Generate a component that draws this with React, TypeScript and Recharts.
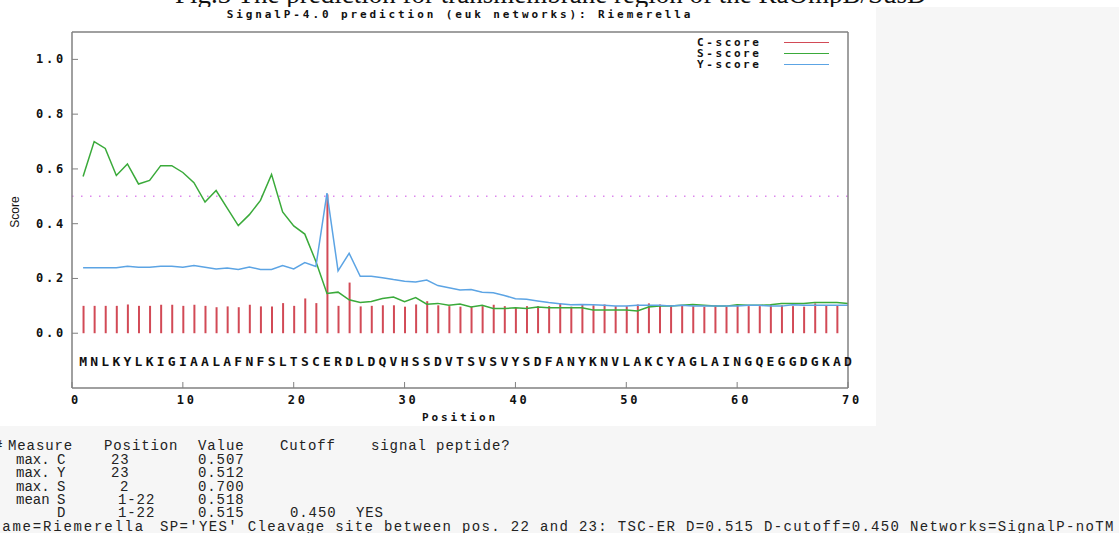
import React from 'react';
import { ComposedChart, Bar, Line, Scatter, XAxis, YAxis, ReferenceLine, Legend } from 'recharts';

// SignalP-4.0 output
const sequence = 'MNLKYLKIGIAALAFNFSLTSCERDLDQVHSSDVTSVSVYSDFANYKNVLAKCYAGLAINGQEGGDGKAD'.split('');

const cScore = [
  0.100, 0.100, 0.100, 0.100, 0.105, 0.100, 0.100, 0.104, 0.104, 0.100,
  0.104, 0.100, 0.095, 0.098, 0.095, 0.104, 0.098, 0.098, 0.110, 0.100,
  0.127, 0.110, 0.507, 0.100, 0.185, 0.098, 0.100, 0.102, 0.102, 0.097,
  0.105, 0.117, 0.102, 0.099, 0.097, 0.097, 0.099, 0.104, 0.099, 0.093,
  0.099, 0.099, 0.099, 0.109, 0.097, 0.105, 0.102, 0.105, 0.099, 0.099,
  0.105, 0.109, 0.105, 0.102, 0.102, 0.099, 0.097, 0.102, 0.097, 0.104,
  0.099, 0.099, 0.104, 0.102, 0.099, 0.097, 0.109, 0.102, 0.102,
];

const sScore = [
  0.572, 0.700, 0.675, 0.576, 0.618, 0.545, 0.558, 0.612, 0.612, 0.587,
  0.550, 0.479, 0.521, 0.457, 0.393, 0.433, 0.485, 0.580, 0.443, 0.392,
  0.362, 0.262, 0.145, 0.150, 0.122, 0.112, 0.116, 0.127, 0.132, 0.115,
  0.130, 0.106, 0.109, 0.102, 0.107, 0.096, 0.102, 0.090, 0.090, 0.093,
  0.090, 0.096, 0.093, 0.093, 0.093, 0.093, 0.085, 0.085, 0.085, 0.085,
  0.081, 0.096, 0.099, 0.099, 0.102, 0.105, 0.102, 0.099, 0.099, 0.104,
  0.102, 0.102, 0.104, 0.109, 0.109, 0.109, 0.112, 0.112, 0.112, 0.109,
];

const yScore = [
  0.239, 0.239, 0.239, 0.239, 0.245, 0.241, 0.241, 0.245, 0.245, 0.241,
  0.247, 0.241, 0.235, 0.238, 0.233, 0.242, 0.233, 0.233, 0.247, 0.235,
  0.258, 0.244, 0.512, 0.228, 0.292, 0.208, 0.208, 0.203, 0.196, 0.190,
  0.187, 0.194, 0.174, 0.166, 0.158, 0.160, 0.150, 0.148, 0.138, 0.126,
  0.124, 0.118, 0.112, 0.108, 0.104, 0.105, 0.104, 0.102, 0.099, 0.099,
  0.102, 0.102, 0.102, 0.099, 0.102, 0.099, 0.099, 0.099, 0.099, 0.099,
  0.102, 0.102, 0.099, 0.099, 0.104, 0.102, 0.102, 0.102, 0.102, 0.102,
];

const xTicks = [0, 10, 20, 30, 40, 50, 60, 70];
const yTicks = [0, 0.2, 0.4, 0.6, 0.8, 1.0];
const cutoff = 0.5;
const seqRow = -0.1;

// summary printed under the plot
const summaryHeader = ['#', 'Measure', 'Position', 'Value', 'Cutoff', 'signal peptide?'];
const summaryTable = [
  ['max.', 'C', '23', '0.507', '', ''],
  ['max.', 'Y', '23', '0.512', '', ''],
  ['max.', 'S', '2', '0.700', '', ''],
  ['mean', 'S', '1-22', '0.518', '', ''],
  ['', 'D', '1-22', '0.515', '0.450', 'YES'],
];
const summaryName = 'Name=Riemerella';
const summaryLine = "SP='YES' Cleavage site between pos. 22 and 23: TSC-ER D=0.515 D-cutoff=0.450 Networks=SignalP-noTM";

const rows = sScore.map((s, i) => ({
  pos: i + 1,
  c: i < cScore.length ? cScore[i] : null,
  s,
  y: yScore[i],
}));
const letters = sequence.map((ch, i) => ({ pos: i + 1, ly: seqRow, ch }));

// text layout for the summary block
const headerX = [-6, 8, 104, 198, 280, 371];
const colX = [16, 57, 111, 198, 290, 356];
const posX = [111, 111, 120, 118, 118];
const lineY = [446, 460, 473, 487, 500, 513, 527];

const mono = '"DejaVu Sans Mono", monospace';
const frame = '#808080';

const XTick = (p: any) => (
  <text x={p.x + 4} y={p.y + 6} textAnchor="middle" fontFamily={mono} fontWeight={700}
    fontSize={12} letterSpacing="2.8px" fill="#111">
    {p.payload.value}
  </text>
);

const YTick = (p: any) => (
  <text x={p.x} y={p.y + 4} textAnchor="end" fontFamily={mono} fontWeight={700}
    fontSize={12} letterSpacing="2.8px" fill="#111">
    {Number(p.payload.value).toFixed(1)}
  </text>
);

const Letter = (p: any) => (
  <text x={p.cx} y={p.cy + 5.5} textAnchor="middle" fontFamily={mono} fontWeight={700}
    fontSize={13} fill="#111">
    {p.payload.ch}
  </text>
);

const LegendBox = ({ payload }: any) => (
  <div>
    {(payload || []).filter((p: any) => p.dataKey !== 'ly').map((p: any) => (
      <div key={p.value} style={{ height: 11, display: 'flex', alignItems: 'center' }}>
        <span style={{ width: 87, fontFamily: mono, fontWeight: 700, fontSize: 11, letterSpacing: '2.6px', color: '#111', lineHeight: '11px' }}>
          {p.value}
        </span>
        <span style={{ width: 45, height: 0, borderTop: `1.5px solid ${p.color}` }} />
      </div>
    ))}
  </div>
);

const txt = (x: number, y: number, t: string, key: string, spacing = 0.9) => (
  <div key={key} style={{ position: 'absolute', left: x, top: y - 6.5, height: 13, lineHeight: '13px', whiteSpace: 'pre', fontFamily: '"Liberation Mono", monospace', fontSize: 14, letterSpacing: `${spacing}px`, color: '#222' }}>
    {t}
  </div>
);

export default function App() {
  return (
    <div style={{ position: 'absolute', left: 0, top: 0, width: 1119, height: 533, background: '#f6f6f6', overflow: 'hidden' }}>
      <div style={{ position: 'absolute', left: 0, top: 0, width: 1119, height: 7, background: '#fff' }} />
      <div style={{ position: 'absolute', left: 175, top: -19, whiteSpace: 'nowrap', fontFamily: '"Liberation Serif", serif', fontSize: 27, lineHeight: '27px', color: '#111' }}>
        Fig.3 The prediction for transmembrane region of the RaOmpB/SusD
      </div>
      <div style={{ position: 'absolute', left: 0, top: 7, width: 876, height: 419, background: '#fff' }} />

      <div style={{ position: 'absolute', left: 0, top: 9, width: 920, textAlign: 'center', fontFamily: mono, fontWeight: 700, fontSize: 11, lineHeight: '12px', letterSpacing: '2.9px', color: '#111' }}>
        SignalP-4.0 prediction (euk networks): Riemerella
      </div>

      <div style={{ position: 'absolute', left: 0, top: 0 }}>
        <ComposedChart width={876} height={426} data={rows} margin={{ top: 31, right: 27, bottom: 37, left: 71 }}>
          <XAxis xAxisId="b" dataKey="pos" type="number" domain={[0, 70]} ticks={xTicks}
            height={1} interval={0} axisLine={{ stroke: frame, strokeWidth: 1.5 }} tickLine={{ stroke: frame }}
            tickSize={-6} tickMargin={16} tick={XTick} />
          <XAxis xAxisId="t" orientation="top" type="number" domain={[0, 70]} ticks={xTicks} allowDataOverflow
            height={1} interval={0} axisLine={{ stroke: frame, strokeWidth: 1.5 }} tickLine={{ stroke: frame }}
            tickSize={-6} tick={false} />
          <YAxis yAxisId="l" type="number" domain={[-0.2, 1.1]} ticks={yTicks}
            width={1} interval={0} axisLine={{ stroke: frame, strokeWidth: 1.5 }} tickLine={{ stroke: frame }}
            tickSize={-6} tickMargin={12} tick={YTick} />
          <YAxis yAxisId="r" orientation="right" type="number" domain={[-0.2, 1.1]} ticks={yTicks} allowDataOverflow
            width={1} interval={0} axisLine={{ stroke: frame, strokeWidth: 1.5 }} tickLine={{ stroke: frame }}
            tickSize={-6} tick={false} />

          <ReferenceLine xAxisId="b" yAxisId="l" y={cutoff} stroke="#dd88ee" strokeWidth={1.5} strokeDasharray="1.5 7.5" />

          <Bar xAxisId="b" yAxisId="l" dataKey="c" name="C-score" barSize={2} fill="#d24a56" isAnimationActive={false} />
          <Line xAxisId="b" yAxisId="l" dataKey="s" name="S-score" type="linear" stroke="#3aaa3a" strokeWidth={1.5}
            dot={false} activeDot={false} isAnimationActive={false} />
          <Line xAxisId="b" yAxisId="l" dataKey="y" name="Y-score" type="linear" stroke="#5ca4e4" strokeWidth={1.5}
            dot={false} activeDot={false} isAnimationActive={false} />
          <Scatter xAxisId="b" yAxisId="l" data={letters} dataKey="ly" shape={Letter} legendType="none" isAnimationActive={false} />

          <Legend layout="vertical" align="center" verticalAlign="middle" content={LegendBox}
            wrapperStyle={{ position: 'absolute', left: 697, top: 36.5, width: 140 }} />
        </ComposedChart>
      </div>

      <div style={{ position: 'absolute', left: 0, top: 412, width: 920, textAlign: 'center', fontFamily: mono, fontWeight: 700, fontSize: 11, lineHeight: '12px', letterSpacing: '2.9px', color: '#111' }}>
        Position
      </div>
      <div style={{ position: 'absolute', left: 15, top: 212, transform: 'translate(-50%, -50%) rotate(-90deg)', fontFamily: '"Liberation Sans", sans-serif', fontSize: 12, color: '#111', whiteSpace: 'nowrap' }}>
        Score
      </div>

      {summaryHeader.map((t, k) => txt(headerX[k], lineY[0], t, `h${k}`))}
      {summaryTable.map((row, r) => row.map((t, k) => t ? txt(k === 2 ? posX[r] : colX[k], lineY[r + 1], t, `r${r}-${k}`, k === 0 ? 0 : 0.9) : null))}
      {txt(-8, lineY[6], summaryName, 'name', 1.8)}
      {txt(160, lineY[6], summaryLine, 'line', 1.34)}
    </div>
  );
}
